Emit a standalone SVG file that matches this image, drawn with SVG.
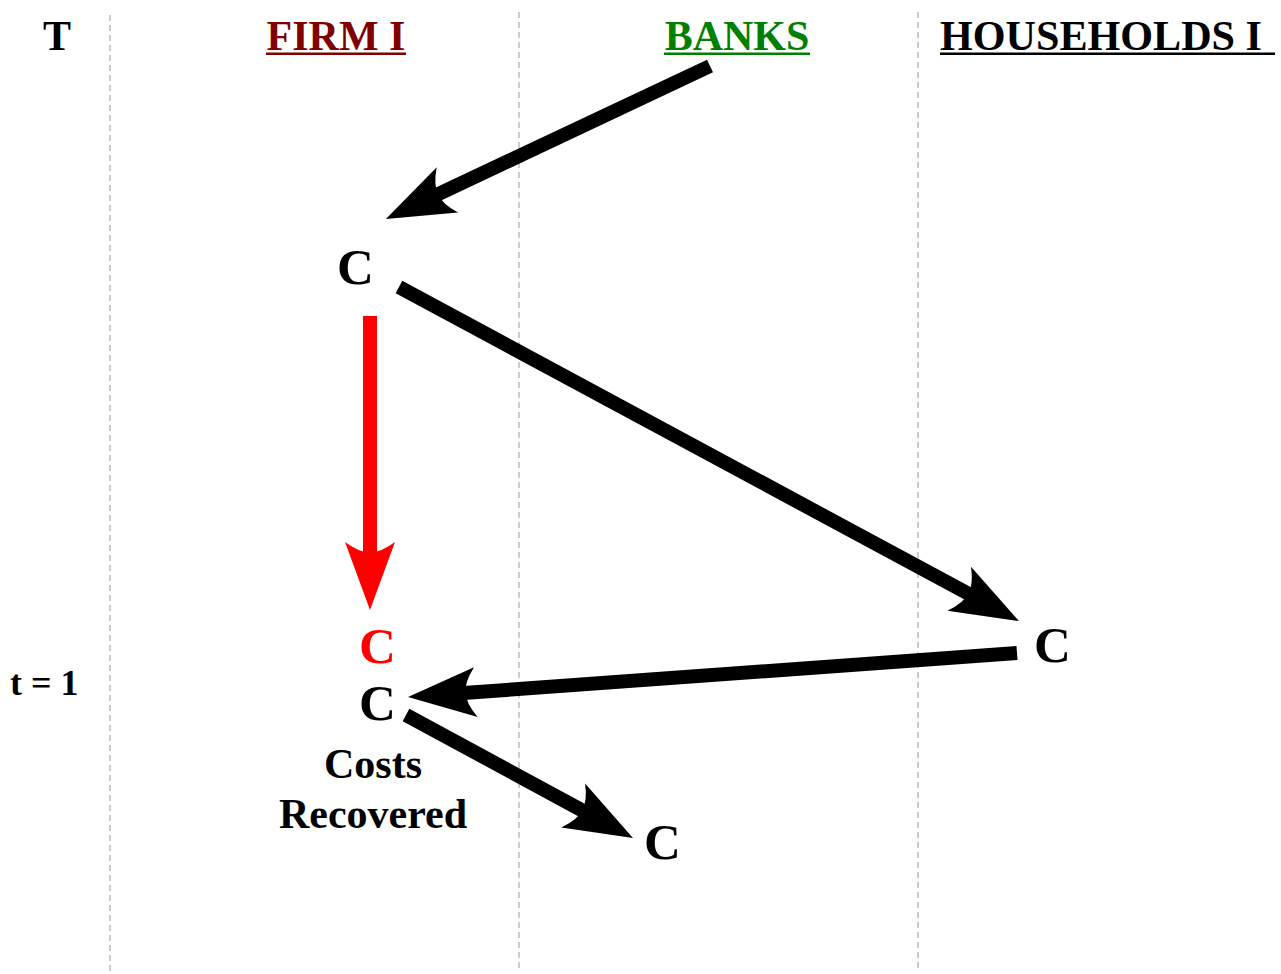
<svg xmlns="http://www.w3.org/2000/svg" width="1281" height="974" viewBox="0 0 1281 974">
<style>
  .lane{stroke:#aaaaaa;stroke-width:1.2;stroke-dasharray:6,4;fill:none}
  .hdr{font-family:"Liberation Serif","Times New Roman",serif;font-weight:bold;font-size:42px}
  .lbl{font-family:"Liberation Serif","Times New Roman",serif;font-weight:bold;font-size:42px;fill:#000;text-anchor:middle}
  .node{font-family:"Liberation Serif","Times New Roman",serif;font-weight:bold;font-size:51px}
  .blk{stroke:#000;stroke-width:14;fill:none;marker-end:url(#ahb)}
  .red{stroke:#ff0000;stroke-width:14;fill:none;marker-end:url(#ahr)}
</style>
<defs>
  <marker id="ahb" markerUnits="userSpaceOnUse" orient="auto" refX="0" refY="0" markerWidth="120" markerHeight="120" overflow="visible">
    <path d="M45,0 L-23,-25 Q-12,-10 -13,0 Q-12,10 -23,25 Z" fill="#000"/>
  </marker>
  <marker id="ahr" markerUnits="userSpaceOnUse" orient="auto" refX="0" refY="0" markerWidth="120" markerHeight="120" overflow="visible">
    <path d="M45,0 L-23,-25 Q-12,-10 -13,0 Q-12,10 -23,25 Z" fill="#ff0000"/>
  </marker>
</defs>
<rect width="1281" height="974" fill="#ffffff"/>
<g id="lanes">
  <line class="lane" x1="110" y1="15" x2="110" y2="972"/>
  <line class="lane" x1="519" y1="12" x2="519" y2="972"/>
  <line class="lane" x1="918" y1="12" x2="918" y2="972"/>
</g>
<g id="headers">
  <text class="hdr" x="57" y="50" text-anchor="middle" fill="#000">T</text>
  <g id="firm">
    <text class="hdr" x="336" y="50" text-anchor="middle" fill="#800000">FIRM I</text>
    <rect x="266" y="52.5" width="140" height="2.5" fill="#800000"/>
  </g>
  <g id="banks">
    <text class="hdr" x="737" y="50" text-anchor="middle" fill="#008000">BANKS</text>
    <rect x="664" y="52.5" width="146" height="2.5" fill="#008000"/>
  </g>
  <g id="households">
    <text class="hdr" x="940" y="50" fill="#000" textLength="322" lengthAdjust="spacingAndGlyphs">HOUSEHOLDS I</text>
    <rect x="940" y="52.5" width="335" height="2.5" fill="#000"/>
  </g>
  <text class="hdr" x="10" y="695" style="font-size:36px" fill="#000">t = 1</text>
</g>
<g id="connectors">
  <line class="blk" x1="710" y1="66" x2="426.6" y2="199.7"/>
  <line class="blk" x1="399" y1="287" x2="979.4" y2="599.7"/>
  <line class="red" x1="370" y1="316" x2="370" y2="565"/>
  <line class="blk" x1="1017" y1="653" x2="452.9" y2="693.8"/>
  <line class="blk" x1="406" y1="715" x2="593.4" y2="816.5"/>
</g>
<g id="node-firm-c1"><text class="node" x="337" y="284" fill="#000">C</text></g>
<g id="node-firm-c-red"><text class="node" x="359" y="663" fill="#ff0000">C</text></g>
<g id="node-firm-c2">
  <text class="node" x="359" y="720" fill="#000">C</text>
  <text class="lbl" x="373" y="778">Costs</text>
  <text class="lbl" x="373" y="828">Recovered</text>
</g>
<g id="node-households-c"><text class="node" x="1034" y="662" fill="#000">C</text></g>
<g id="node-banks-c"><text class="node" x="644" y="859" fill="#000">C</text></g>
</svg>
